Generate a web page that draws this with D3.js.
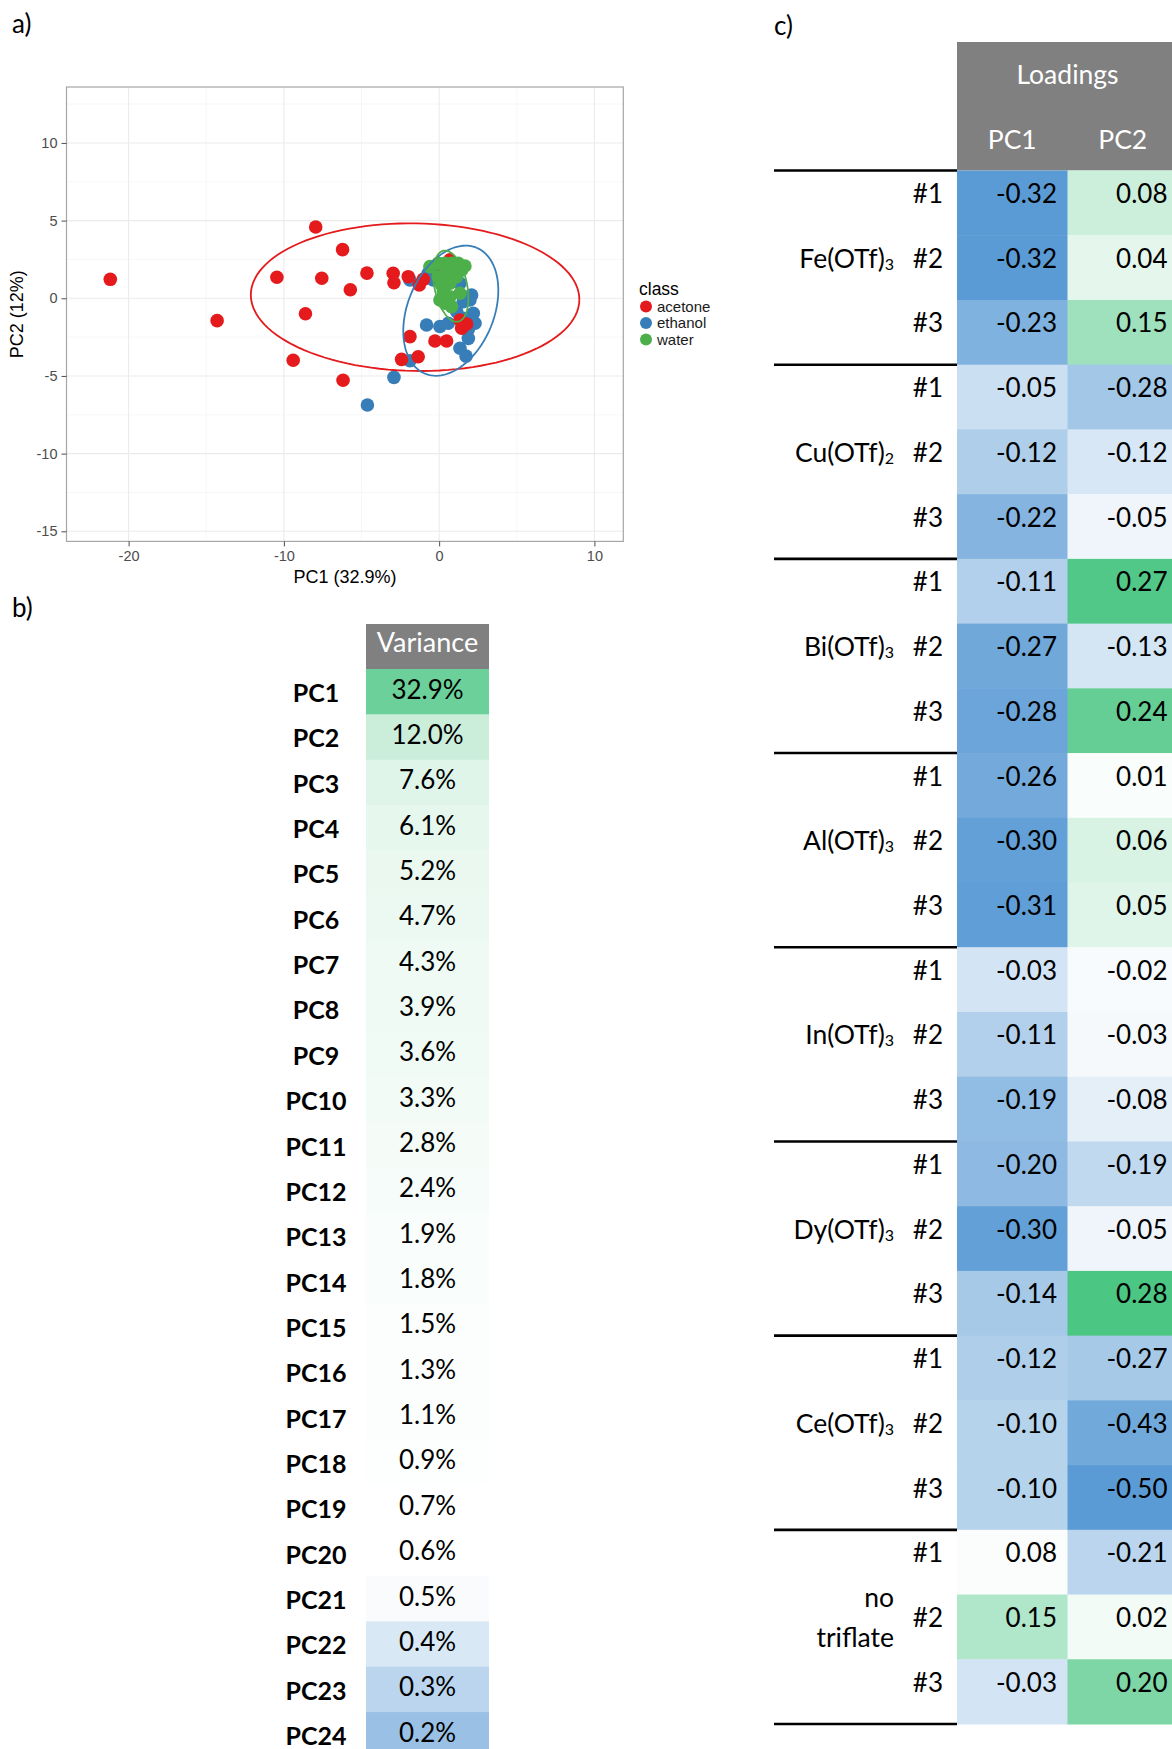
<!DOCTYPE html>
<html>
<head>
<meta charset="utf-8">
<script src="https://cdn.jsdelivr.net/npm/d3@7"></script>
<style>
body{margin:0;background:#fff;}
svg{display:block;}
</style>
</head>
<body>
<script>
// --- data ---
var acetone=[[-21.18,1.22],[-14.30,-1.44],[-7.95,4.59],[-6.22,3.13],[-10.45,1.35],[-7.56,1.29],[-4.65,1.62],[-5.72,0.55],[-8.61,-1.00],[-9.40,-3.99],[-6.19,-5.28],
	[-2.96,1.61],[-2.91,1.00],[-1.99,1.39],[-1.28,0.86],[-1.02,1.22],[0.70,2.47],[0.16,1.50],[-1.88,-2.47],[-2.42,-3.93],[-1.35,-3.76],[-0.27,-2.75],[0.48,-2.75],[1.34,-1.40],[1.77,-1.66],[1.45,-1.93]];
var ethanol=[[-4.62,-6.87],[-2.91,-5.09],[-1.88,1.18],[-0.81,-1.72],[0.05,-1.82],[0.59,-1.61],[1.34,-3.22],[1.73,-3.72],[1.88,-2.58],[2.31,-1.61],[2.20,-0.97],[2.09,0.21],[1.98,-0.11],
	[-0.70,1.61],[-0.38,1.18],[1.34,0.97],[1.55,-0.22],[1.88,-2.00],[1.13,-0.86],[-1.88,-4.02],[0.16,1.82],[1.55,-1.29]];
var water=[[-0.59,2.04],[-0.06,2.25],[0.37,2.25],[0.80,2.25],[1.23,2.25],[1.66,2.08],[1.13,1.93],[0.48,1.39],[0.70,0.97],[0.16,0.86],[0.27,0.43],[0.70,0.10],[0.37,-0.32],[0.80,-0.54],
	[1.34,0.32],[1.13,1.39],[-0.06,1.39],[0.48,1.82],[1.45,1.82],[0.05,-0.11]];
var classes=["acetone","ethanol","water"];
var classColors=["#e41a1c","#377eb8","#4daf4a"];
// ellipse: centre x, centre y, semi-axis a, semi-axis b, angle (deg)
var ellipseParams=[[-1.55,0.07,10.58,4.75,-1],[0.75,-0.80,4.38,2.78,67.8],[0.75,0.78,2.33,1.05,101.8]];
var xTicks=[-20,-10,0,10];
var yTicks=[-15,-10,-5,0,5,10];
var xMinor=[-15,-5,5];
var yMinor=[-12.5,-7.5,-2.5,2.5,7.5,12.5];

var pcNames=d3.range(1,25).map(function(i){return "PC"+i;});
var variance=[32.9,12.0,7.6,6.1,5.2,4.7,4.3,3.9,3.6,3.3,2.8,2.4,1.9,1.8,1.5,1.3,1.1,0.9,0.7,0.6,0.5,0.4,0.3,0.2];

var metals=[["Fe(OTf)","3"],["Cu(OTf)","2"],["Bi(OTf)","3"],["Al(OTf)","3"],["In(OTf)","3"],["Dy(OTf)","3"],["Ce(OTf)","3"],["no triflate",""]];
var reps=["#1","#2","#3"];
var loadPC1=[-0.32,-0.32,-0.23, -0.05,-0.12,-0.22, -0.11,-0.27,-0.28, -0.26,-0.30,-0.31, -0.03,-0.11,-0.19, -0.20,-0.30,-0.14, -0.12,-0.10,-0.10, 0.08,0.15,-0.03];
var loadPC2=[0.08,0.04,0.15, -0.28,-0.12,-0.05, 0.27,-0.13,0.24, 0.01,0.06,0.05, -0.02,-0.03,-0.08, -0.19,-0.05,0.28, -0.27,-0.43,-0.50, -0.21,0.02,0.20];

var w=1172, h=1749;
var svg=d3.select("body").append("svg").attr("width",w).attr("height",h)
	.style("background","#fff");

var calFont="Lato, 'Open Sans', sans-serif";
var arialFont="'Liberation Sans', Arial, sans-serif";

// panel letters
svg.append("text").attr("x",12).attr("y",33).text("a)").style("font-family",calFont).style("font-size","26px");
svg.append("text").attr("x",12).attr("y",617).text("b)").style("font-family",calFont).style("font-size","26px");
svg.append("text").attr("x",774).attr("y",35).text("c)").style("font-family",calFont).style("font-size","26px");

// ===== a) scatter =====
var px0=66.5, px1=623.3, py0=87, py1=541.4;
var x=d3.scaleLinear().domain([-24.0,11.86]).range([px0,px1]);
var y=d3.scaleLinear().domain([-15.65,13.6]).range([py1,py0]);

var g=svg.append("g");
g.append("rect").attr("x",px0).attr("y",py0).attr("width",px1-px0).attr("height",py1-py0).attr("fill","#fff");

g.selectAll(".vminor").data(xMinor).enter().append("line")
	.attr("x1",function(d){return x(d);}).attr("x2",function(d){return x(d);})
	.attr("y1",py0).attr("y2",py1).attr("stroke","#f4f4f4").attr("stroke-width",0.7);
g.selectAll(".hminor").data(yMinor).enter().append("line")
	.attr("y1",function(d){return y(d);}).attr("y2",function(d){return y(d);})
	.attr("x1",px0).attr("x2",px1).attr("stroke","#f4f4f4").attr("stroke-width",0.7);
g.selectAll(".vmajor").data(xTicks).enter().append("line")
	.attr("x1",function(d){return x(d);}).attr("x2",function(d){return x(d);})
	.attr("y1",py0).attr("y2",py1).attr("stroke","#ebebeb").attr("stroke-width",1.1);
g.selectAll(".hmajor").data(yTicks).enter().append("line")
	.attr("y1",function(d){return y(d);}).attr("y2",function(d){return y(d);})
	.attr("x1",px0).attr("x2",px1).attr("stroke","#ebebeb").attr("stroke-width",1.1);

var series=[ethanol,acetone,water];
var seriesCol=[classColors[1],classColors[0],classColors[2]];
series.forEach(function(pts,k){
	g.append("g").selectAll("circle").data(pts).enter().append("circle")
		.attr("cx",function(d){return x(d[0]);})
		.attr("cy",function(d){return y(d[1]);})
		.attr("r",6.8)
		.attr("fill",seriesCol[k]);
});

// ellipses
var line=d3.line().x(function(d){return x(d[0]);}).y(function(d){return y(d[1]);});
ellipseParams.forEach(function(e,k){
	var th=e[4]*Math.PI/180;
	var pts=d3.range(0,361,3).map(function(t){
		var tt=t*Math.PI/180;
		return [e[0]+e[2]*Math.cos(th)*Math.cos(tt)-e[3]*Math.sin(th)*Math.sin(tt),
			e[1]+e[2]*Math.sin(th)*Math.cos(tt)+e[3]*Math.cos(th)*Math.sin(tt)];
	});
	g.append("path").attr("d",line(pts)).attr("fill","none")
		.attr("stroke",classColors[k]).attr("stroke-width",1.8);
});

g.append("rect").attr("x",px0).attr("y",py0).attr("width",px1-px0).attr("height",py1-py0)
	.attr("fill","none").attr("stroke","#a6a6a6").attr("stroke-width",1.2);

var xAxis=g.append("g").attr("transform","translate(0,"+py1+")")
	.call(d3.axisBottom(x).tickValues(xTicks).tickSize(5).tickPadding(4).tickFormat(function(d){return String(d);}));
var yAxis=g.append("g").attr("transform","translate("+px0+",0)")
	.call(d3.axisLeft(y).tickValues(yTicks).tickSize(5).tickPadding(4).tickFormat(function(d){return String(d);}));
[xAxis,yAxis].forEach(function(a){
	a.select(".domain").remove();
	a.selectAll("line").attr("stroke","#4d4d4d");
	a.selectAll("text").attr("fill","#4d4d4d").style("font-family",arialFont).style("font-size","14.5px");
});

g.append("text").attr("x",(px0+px1)/2).attr("y",583).attr("text-anchor","middle")
	.text("PC1 (32.9%)").style("font-family",arialFont).style("font-size","18px");
g.append("text").attr("transform","translate(23,"+((py0+py1)/2)+") rotate(-90)").attr("text-anchor","middle")
	.text("PC2 (12%)").style("font-family",arialFont).style("font-size","18px");

// legend
var leg=g.append("g");
leg.append("text").attr("x",639).attr("y",295).text("class").style("font-family",arialFont).style("font-size","17.5px");
classes.forEach(function(c,i){
	leg.append("circle").attr("cx",646).attr("cy",306.5+i*16.5).attr("r",6).attr("fill",classColors[i]);
	leg.append("text").attr("x",657).attr("y",311.8+i*16.5).text(c)
		.style("font-family",arialFont).style("font-size","15px").attr("fill","#1a1a1a");
});

// ===== colour scales =====
var blueEnd="#5b9bd5", greenEnd="#4bc683";
var varColor=d3.scaleLinear().domain([0,0.52,40]).range([blueEnd,"#ffffff",greenEnd]).clamp(true);
var pc1Color=d3.scaleLinear().domain([-0.32,0.075,0.246]).range([blueEnd,"#ffffff",greenEnd]).clamp(true);
var pc2Color=d3.scaleLinear().domain([-0.50,0,0.28]).range([blueEnd,"#ffffff",greenEnd]).clamp(true);

// ===== b) variance table =====
var vx0=366, vx1=489, vHeadTop=624, vHeadBot=669, vRow=45.35;
var vy=d3.scaleBand().domain(pcNames).range([vHeadBot,vHeadBot+vRow*pcNames.length]);
var tb=svg.append("g");
tb.append("rect").attr("x",vx0).attr("y",vHeadTop).attr("width",vx1-vx0).attr("height",vHeadBot-vHeadTop).attr("fill","#808080");
tb.append("text").attr("x",(vx0+vx1)/2).attr("y",652).attr("text-anchor","middle").attr("fill","#fff")
	.text("Variance").style("font-family",calFont).style("font-size","27px");
tb.selectAll(".vcell").data(variance).enter().append("rect")
	.attr("x",vx0).attr("width",vx1-vx0)
	.attr("y",function(d,i){return vy(pcNames[i]);})
	.attr("height",vy.bandwidth()+0.5)
	.attr("fill",function(d){return varColor(d);});
tb.selectAll(".vval").data(variance).enter().append("text")
	.attr("x",(vx0+vx1)/2).attr("text-anchor","middle")
	.attr("y",function(d,i){return vy(pcNames[i])+29.5;})
	.text(function(d){return d.toFixed(1)+"%";})
	.style("font-family",calFont).style("font-size","26px");
tb.selectAll(".vlab").data(pcNames).enter().append("text")
	.attr("x",316).attr("text-anchor","middle")
	.attr("y",function(d){return vy(d)+33;})
	.text(function(d){return d;})
	.style("font-family",calFont).style("font-size","25px").style("font-weight","bold");

// ===== c) loadings table =====
var lx0=957, lx1=1178, lHeadTop=42, lTop=170.5, lRow=64.73;
var cols=["PC1","PC2"];
var colX=d3.scaleBand().domain(cols).range([lx0,lx1]);
var ly=d3.scaleBand().domain(d3.range(loadPC1.length)).range([lTop,lTop+lRow*loadPC1.length]);
var lt=svg.append("g");
lt.append("rect").attr("x",lx0).attr("y",lHeadTop).attr("width",lx1-lx0).attr("height",lTop-lHeadTop).attr("fill","#808080");
lt.append("text").attr("x",(lx0+lx1)/2).attr("y",84).attr("text-anchor","middle").attr("fill","#fff")
	.text("Loadings").style("font-family",calFont).style("font-size","26.5px");
cols.forEach(function(c){
	lt.append("text").attr("x",colX(c)+colX.bandwidth()/2).attr("y",148.5).attr("text-anchor","middle").attr("fill","#fff")
		.text(c).style("font-family",calFont).style("font-size","26.5px");
});
[loadPC1,loadPC2].forEach(function(vals,k){
	var sc=k==0?pc1Color:pc2Color;
	var cx=colX(cols[k]);
	lt.append("g").selectAll("rect").data(vals).enter().append("rect")
		.attr("x",cx).attr("width",colX.bandwidth()+0.5)
		.attr("y",function(d,i){return ly(i);}).attr("height",ly.bandwidth()+0.5)
		.attr("fill",function(d){return sc(d);});
	lt.append("g").selectAll("text").data(vals).enter().append("text")
		.attr("x",cx+colX.bandwidth()-10.5).attr("text-anchor","end")
		.attr("y",function(d,i){return ly(i)+32.5;})
		.text(function(d){return d.toFixed(2);})
		.style("font-family",calFont).style("font-size","26px");
});
loadPC1.forEach(function(d,i){
	lt.append("text").attr("x",943).attr("y",ly(i)+32.5).attr("text-anchor","end")
		.text(reps[i%3]).style("font-family",calFont).style("font-size","26px");
});
metals.forEach(function(m,j){
	var yb=ly(j*3+1)+32.5;
	if(m[1]!=""){
		var t=lt.append("text").attr("x",894).attr("y",yb).attr("text-anchor","end")
			.style("font-family",calFont).style("font-size","26.5px");
		t.append("tspan").text(m[0]);
		t.append("tspan").attr("dy",2).style("font-size","16px").text(m[1]);
	}else{
		var parts=m[0].split(" ");
		lt.append("text").attr("x",894).attr("y",yb-20).attr("text-anchor","end").text(parts[0])
			.style("font-family",calFont).style("font-size","26.5px");
		lt.append("text").attr("x",894).attr("y",yb+19.5).attr("text-anchor","end").text(parts[1])
			.style("font-family",calFont).style("font-size","26.5px");
	}
});
d3.range(metals.length+1).forEach(function(j){
	var yy=lTop+j*3*lRow;
	lt.append("line").attr("x1",774).attr("x2",lx0).attr("y1",yy).attr("y2",yy)
		.attr("stroke","#000").attr("stroke-width",2.6);
});
</script>
</body>
</html>
